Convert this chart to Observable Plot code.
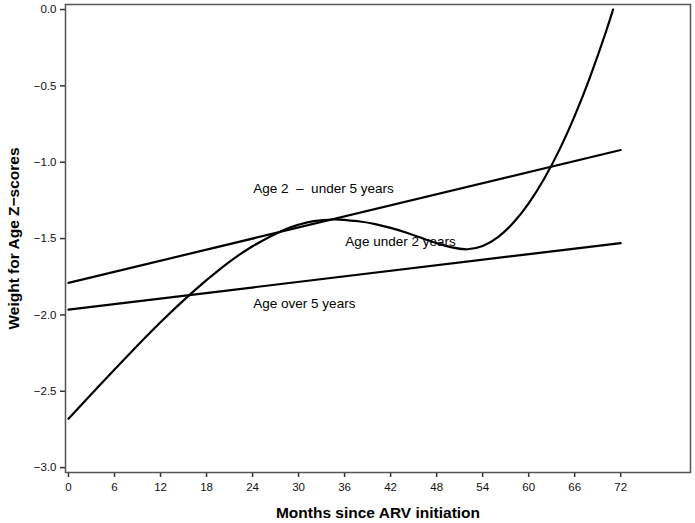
<!DOCTYPE html>
<html>
<head>
<meta charset="utf-8">
<script src="https://cdn.jsdelivr.net/npm/d3@7"></script>
<script src="https://cdn.jsdelivr.net/npm/@observablehq/plot@0.6"></script>
<style>
  body { margin: 0; background: #fff; }
  #chart svg { display: block; }
  #chart svg text { white-space: pre; }
</style>
</head>
<body>
<div id="chart"></div>
<script>
// Straight fitted lines (month, z-score)
const age2to5Months = [0, 72];
const age2to5Values = [-1.79, -0.92];
const ageOver5Months = [0, 72];
const ageOver5Values = [-1.965, -1.53];

// Curve for children under 2 years
const under2Months = [0, 4, 8, 12, 16, 20, 24, 28, 30, 32, 34.5, 36, 38, 40, 42, 44, 46, 48, 50, 52, 54, 56, 58, 60, 62, 64, 66, 68, 70, 71];
const under2Values = [-2.68, -2.464, -2.252, -2.048, -1.859, -1.69, -1.55, -1.445, -1.409, -1.386, -1.375, -1.378, -1.388, -1.405, -1.43, -1.46, -1.495, -1.53, -1.558, -1.57, -1.549, -1.49, -1.397, -1.27, -1.11, -0.919, -0.696, -0.442, -0.157, 0.0];

// Annotation labels
const labelTexts = ["Age 2  \u2013  under 5 years", "Age under 2 years", "Age over 5 years"];
const labelMonths = [24.1, 36.1, 24.1];
const labelValues = [-1.172, -1.519, -1.925];

// Ticks
const xTicks = [0, 6, 12, 18, 24, 30, 36, 42, 48, 54, 60, 66, 72];
const yTicks = [0, -0.5, -1.0, -1.5, -2.0, -2.5, -3.0];

const xTitle = "Months since ARV initiation";
const yTitle = "Weight for Age Z\u2212scores";

const toRows = (xs, ys, name) => xs.map((x, i) => ({x, y: ys[i], name}));
const lines = [
  ...toRows(age2to5Months, age2to5Values, "2-5"),
  ...toRows(ageOver5Months, ageOver5Values, "over5")
];
const curve = toRows(under2Months, under2Values, "under2");
const labels = labelTexts.map((t, i) => ({t, x: labelMonths[i], y: labelValues[i]}));

const chart = Plot.plot({
  width: 695,
  height: 523,
  marginLeft: 65,
  marginRight: 5,
  marginTop: 4,
  marginBottom: 51,
  style: {fontFamily: "'Liberation Sans', Arial, Helvetica, sans-serif", fontSize: "11.5px", color: "#111", background: "#fff"},
  x: {domain: [-0.39, 81.1]},
  y: {domain: [-3.032, 0.033]},
  marks: [
    Plot.axisX({ticks: xTicks, tickSize: 5, tickPadding: 5, label: null, tickFormat: d3.format("d"), stroke: "#333", strokeWidth: 1.5}),
    Plot.axisY({ticks: yTicks, tickSize: 5, tickPadding: 4, label: null, tickFormat: d3.format(".1f"), stroke: "#333", strokeWidth: 1.5}),
    Plot.frame({stroke: "#555", strokeWidth: 1.5}),
    Plot.line(lines, {x: "x", y: "y", z: "name", stroke: "#000", strokeWidth: 2.2}),
    Plot.line(curve, {x: "x", y: "y", stroke: "#000", strokeWidth: 2.2, curve: "natural"}),
    Plot.text(labels, {x: "x", y: "y", text: "t", textAnchor: "start", fontSize: 13.5, fill: "#000", wordSpacing: "2px"}),
    Plot.text([xTitle], {frameAnchor: "bottom", textAnchor: "middle", dy: 45, fontSize: 15.5, fontWeight: "bold", fill: "#000", wordSpacing: "2px"}),
    Plot.text([yTitle], {frameAnchor: "left", textAnchor: "middle", lineAnchor: "middle", dx: -51, rotate: -90, fontSize: 15.5, fontWeight: "bold", fill: "#000", wordSpacing: "2px"})
  ]
});
document.getElementById("chart").appendChild(chart);
</script>
</body>
</html>
